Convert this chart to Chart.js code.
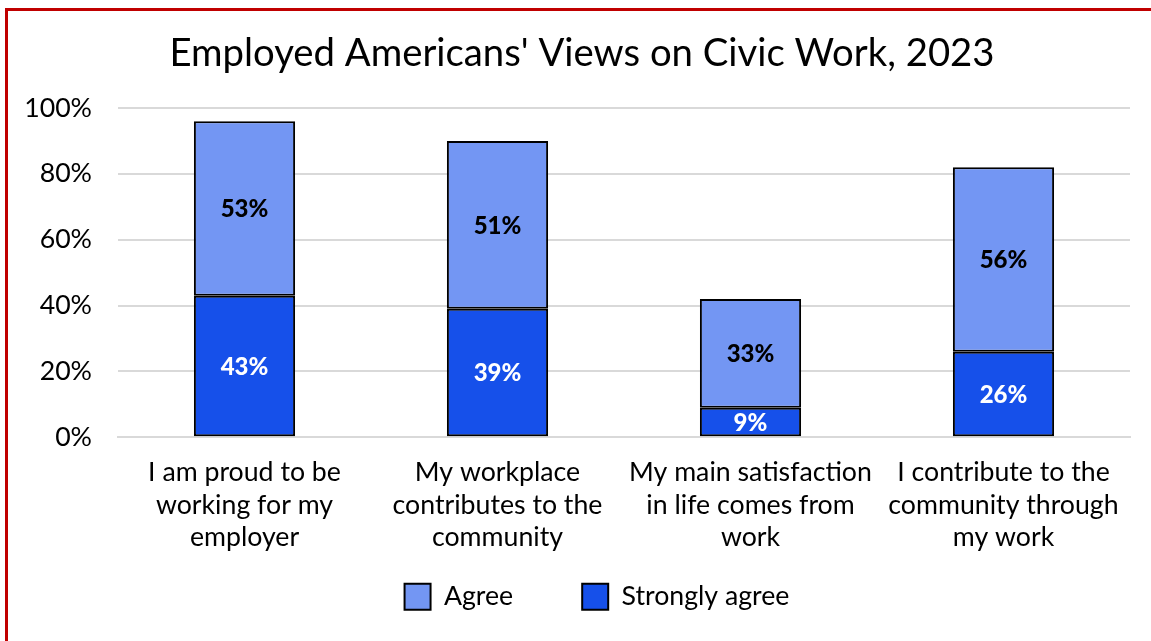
<!DOCTYPE html>
<html>
<head>
<meta charset="utf-8">
<script src="https://cdn.jsdelivr.net/npm/chart.js@4"></script>
<style>
  html, body { margin: 0; padding: 0; background: #fff; overflow: hidden; }
  #frame {
    position: absolute; left: 5px; top: 8px; width: 1200px; height: 700px;
    border-left: 3px solid #c00000; border-top: 3px solid #c00000;
  }
  #wrap { position: absolute; left: 0; top: 0; width: 1151px; height: 641px; }
</style>
</head>
<body>
<div id="frame"></div>
<div id="wrap"><canvas id="chart"></canvas></div>
<script>
const categories = [
  ['I am proud to be', 'working for my', 'employer'],
  ['My workplace', 'contributes to the', 'community'],
  ['My main satisfaction', 'in life comes from', 'work'],
  ['I contribute to the', 'community through', 'my work']
];
const stronglyAgree = [43, 39, 9, 26];
const agree = [53, 51, 33, 56];
const yTicks = [0, 20, 40, 60, 80, 100];

const FONT = 'Lato, "Open Sans", sans-serif';

// percent labels in the middle of each segment
const barLabels = {
  id: 'barLabels',
  afterDatasetsDraw(chart) {
    const ctx = chart.ctx;
    ctx.save();
    ctx.font = '900 24px ' + FONT;
    ctx.textAlign = 'center';
    ctx.textBaseline = 'middle';
    chart.data.datasets.forEach((ds, i) => {
      const meta = chart.getDatasetMeta(i);
      meta.data.forEach((bar, j) => {
        const p = bar.getProps(['x', 'y', 'base'], true);
        ctx.fillStyle = ds.labelColor;
        ctx.fillText(ds.data[j] + '%', p.x, (p.y + p.base) / 2 + 1);
      });
    });
    ctx.restore();
  }
};

// the original title and legend sit a bit right of the canvas centre
const nudge = {
  id: 'nudge',
  afterLayout(chart) {
    chart.legend.left += 32;
    chart.legend.right += 32;
    chart.titleBlock.left += 17;
    chart.titleBlock.right += 17;
  }
};

new Chart(document.getElementById('chart'), {
  type: 'bar',
  data: {
    labels: categories,
    datasets: [
      {
        label: 'Strongly agree',
        data: stronglyAgree,
        backgroundColor: '#1650ea',
        borderColor: '#000',
        borderWidth: 2,
        borderSkipped: false,
        labelColor: '#fff'
      },
      {
        label: 'Agree',
        data: agree,
        backgroundColor: '#7396f3',
        borderColor: '#000',
        borderWidth: 2,
        borderSkipped: false,
        labelColor: '#000'
      }
    ]
  },
  options: {
    responsive: true,
    maintainAspectRatio: false,
    animation: false,
    categoryPercentage: 1,
    barPercentage: 0.4,
    layout: { padding: { top: 10, right: 21, left: 0, bottom: 21 } },
    scales: {
      x: {
        stacked: true,
        afterFit: s => { s.height = 118; },
        grid: { display: false },
        border: { color: '#d9d9d9', width: 2 },
        ticks: {
          color: '#000',
          font: { family: FONT, size: 26.7, lineHeight: 1.22 },
          padding: 11,
          maxRotation: 0
        }
      },
      y: {
        stacked: true,
        min: 0,
        max: 100,
        afterFit: s => { s.width = 118; },
        afterBuildTicks: s => { s.ticks = yTicks.map(v => ({ value: v })); },
        grid: { color: '#d9d9d9', lineWidth: 2, drawTicks: false },
        border: { display: false },
        ticks: {
          color: '#000',
          padding: 26,
          font: { family: FONT, size: 26.7 },
          callback: v => v + '%'
        }
      }
    },
    plugins: {
      title: {
        display: true,
        text: "Employed Americans' Views on Civic Work, 2023",
        color: '#000',
        font: { family: FONT, size: 38.3, weight: 'normal' },
        padding: { top: 21, bottom: 31 }
      },
      legend: {
        position: 'bottom',
        reverse: true,
        labels: {
          color: '#000',
          font: { family: FONT, size: 26.7 },
          boxWidth: 26,
          boxHeight: 26,
          padding: 28,
          generateLabels: chart => {
            const items = Chart.defaults.plugins.legend.labels.generateLabels(chart);
            // wider gap after the first entry
            items.forEach(it => { if (it.datasetIndex === 1) it.text += '\u00a0'.repeat(6); });
            return items;
          }
        }
      },
      tooltip: { enabled: false }
    }
  },
  plugins: [barLabels, nudge]
});
</script>
</body>
</html>
